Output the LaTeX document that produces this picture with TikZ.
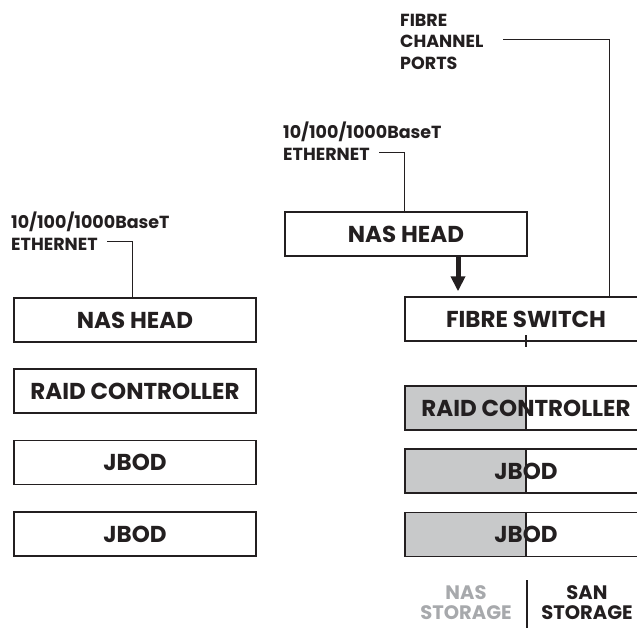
\documentclass[tikz,border=0pt]{standalone}
\usepackage{fontspec}
\setmainfont{Poppins}
\usetikzlibrary{arrows.meta}
\definecolor{ink}{HTML}{231F20}
\definecolor{greyfill}{HTML}{C8C9CA}
\definecolor{greytext}{HTML}{A7A9AC}
\tikzset{
  unitbox/.style={draw=ink, line width=1.4pt, minimum width=242pt, minimum height=44pt,
    inner sep=0pt, font=\fontsize{23}{23}\selectfont\bfseries, text=ink, fill=white},
  halfbox/.style={unitbox, path picture={\fill[greyfill] (path picture bounding box.south west) rectangle (path picture bounding box.north);}},
  smalllabel/.style={font=\fontsize{17.5}{21.5}\selectfont\bfseries, text=ink, align=left, inner sep=0pt},
  storelabel/.style={font=\fontsize{19.5}{20}\selectfont\bfseries, align=center, inner sep=0pt},
  wire/.style={draw=ink, line width=1pt},
  divider/.style={draw=ink, line width=1.2pt}
}
\begin{document}
\begin{tikzpicture}[x=1pt,y=-1pt]
\useasboundingbox (0,0) rectangle (637,627);
% left column
\node[unitbox] (lnas) at (135,320) {NAS HEAD};
\node[unitbox] (lraid) at (135,391) {RAID CONTROLLER};
\node[unitbox] (ljb1) at (135,462.5) {JBOD};
\node[unitbox] (ljb2) at (135,534) {JBOD};
\node[smalllabel, anchor=west] (leth) at (11,231) {10/100/1000BaseT\\ETHERNET};
\coordinate (lethend) at (107,241);
\draw[wire] (lethend) -| ([xshift=-3pt]lnas.north);
% middle
\node[unitbox] (mnas) at (406,234) {NAS HEAD};
\node[smalllabel, anchor=west] (meth) at (283,141) {10/100/1000BaseT\\ETHERNET};
\coordinate (methend) at (379,152);
\draw[wire] (methend) -| ([xshift=-2pt]mnas.north);
% right column
\node[unitbox] (fs) at (526,319) {FIBRE SWITCH};
\node[halfbox] (rraid) at (526,408) {RAID CONTROLLER};
\node[halfbox] (rjb1) at (526,471) {JBOD};
\node[halfbox] (rjb2) at (526,534.5) {JBOD};
\foreach \b in {rraid,rjb1,rjb2} {\draw[divider] (\b.north) -- (\b.south);}
\draw[divider] ([yshift=-5pt]fs.south) -- ([yshift=7pt]fs.south);
\node[smalllabel, anchor=west] (fcp) at (400,41.5) {FIBRE\\CHANNEL\\PORTS};
\coordinate (fcpend) at (503,39.5);
\draw[wire] (fcpend) -| ([xshift=83pt]fs.north);
% arrow
\draw[draw=ink, line width=5pt, shorten >=5pt, -{Triangle[length=15pt,width=14pt]}]
  ([xshift=52pt]mnas.south) -- ([xshift=52pt]mnas.south |- fs.north);
% storage labels
\node[storelabel, text=greytext] (nasst) at (466,602.5) {NAS\\STORAGE};
\node[storelabel, text=ink] (sanst) at (587,602.5) {SAN\\STORAGE};
\coordinate (septop) at (527,580);
\coordinate (sepbot) at (527,630);
\draw[divider] (septop) -- (sepbot);
\end{tikzpicture}
\end{document}
